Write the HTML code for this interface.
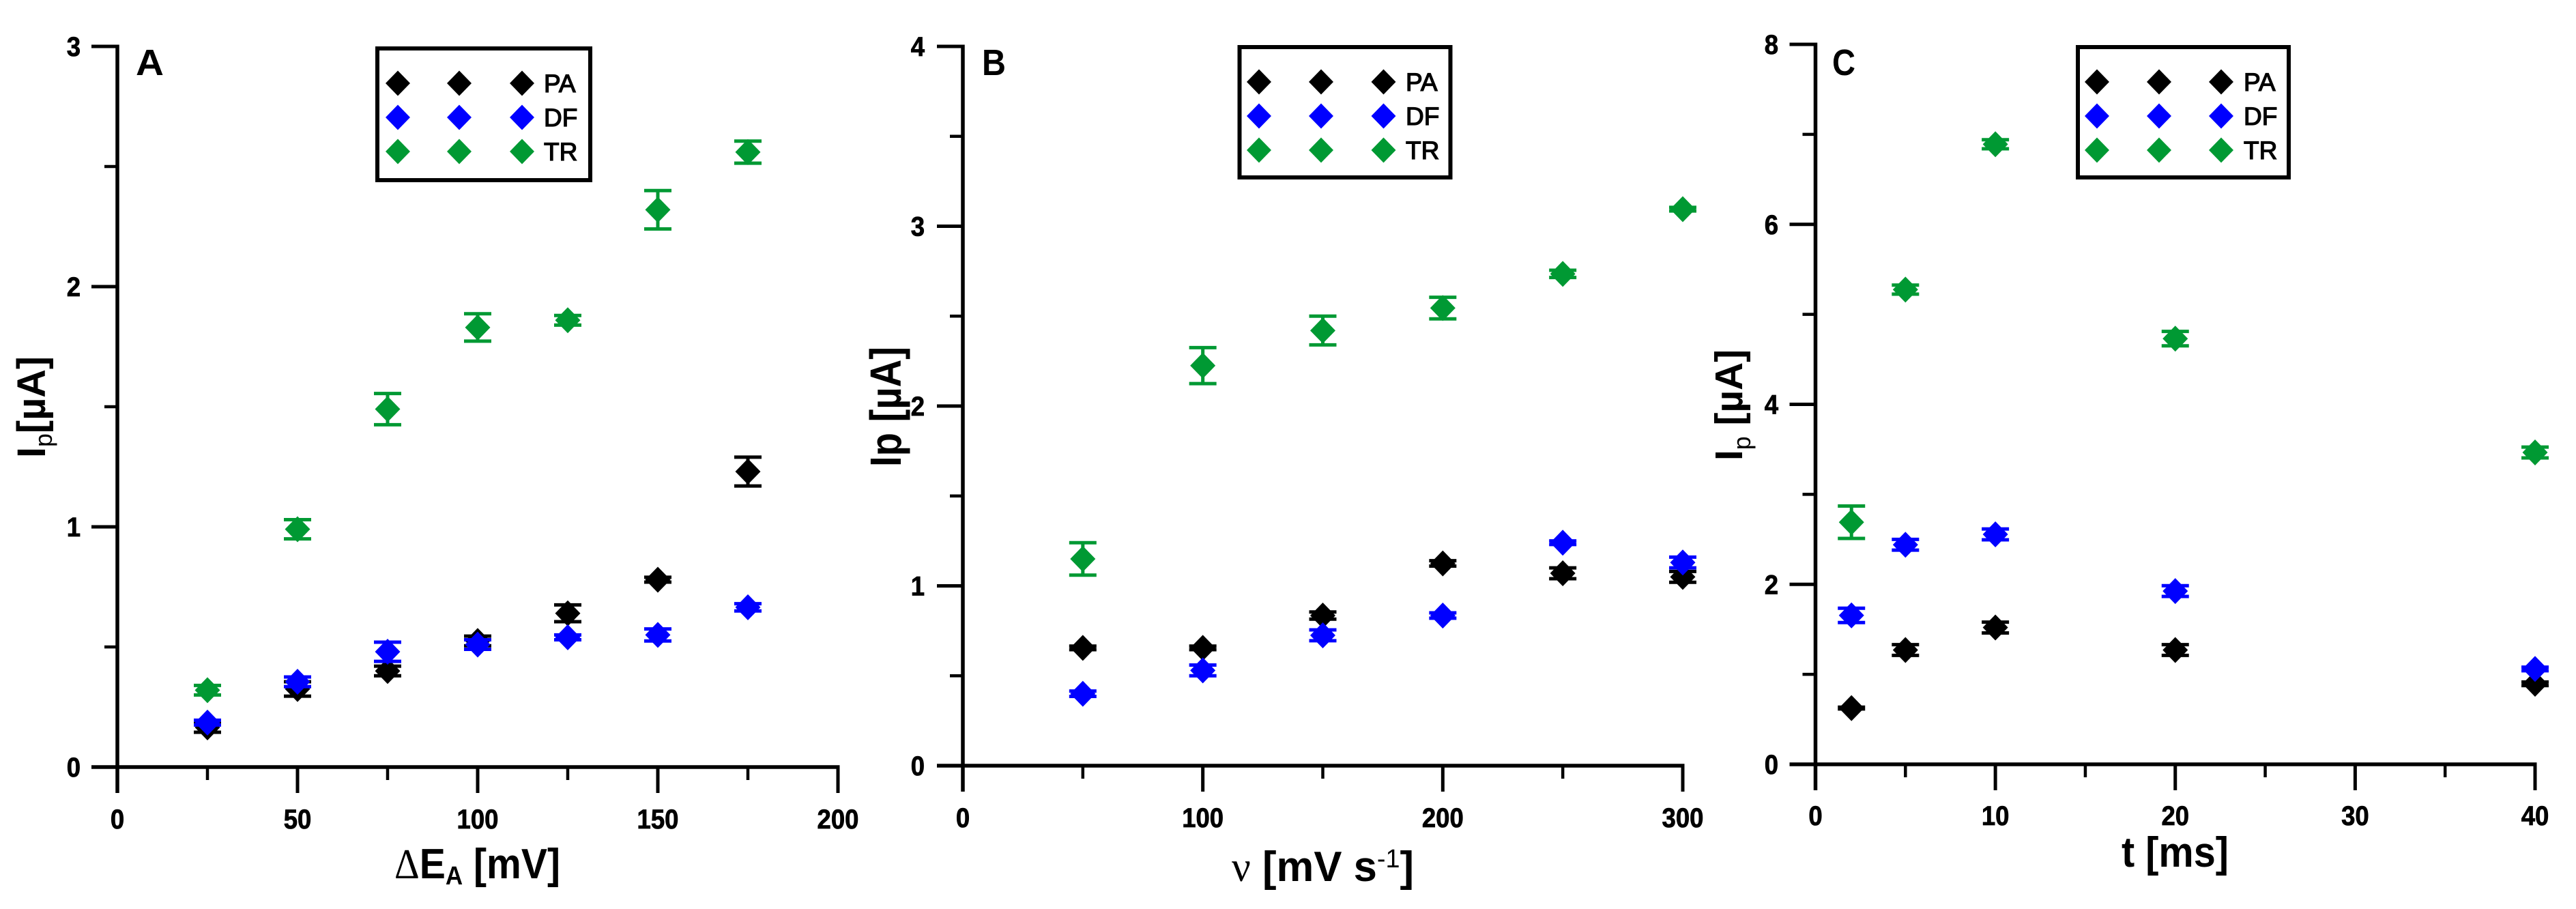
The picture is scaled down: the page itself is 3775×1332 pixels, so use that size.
<!DOCTYPE html>
<html lang="en">
<head>
<meta charset="utf-8">
<title>Peak current plots</title>
<style>
html,body{margin:0;padding:0;background:#fff;}
#figure{display:block;width:3775px;height:1332px;background:#fff;}
text{font-family:"Liberation Sans",Arial,sans-serif;fill:#000;}
</style>
</head>
<body>
<svg id="figure" xmlns="http://www.w3.org/2000/svg" width="3775" height="1332" viewBox="0 0 3775 1332"></svg>
<script>
// Panel A data
const aCategories = [25, 50, 75, 100, 125, 150, 175];
const aPA = [0.165, 0.325, 0.40, 0.525, 0.64, 0.78, 1.23];
const aPAErr = [0.02, 0.03, 0.02, 0.02, 0.035, 0.01, 0.06];
const aDF = [0.185, 0.355, 0.48, 0.51, 0.54, 0.55, 0.665];
const aDFErr = [0.01, 0.02, 0.04, 0.02, 0.01, 0.025, 0.015];
const aTR = [0.32, 0.99, 1.49, 1.83, 1.86, 2.32, 2.56];
const aTRErr = [0.02, 0.04, 0.065, 0.057, 0.02, 0.08, 0.046];
const aXMajor = [0, 50, 100, 150, 200];
const aXMinor = [25, 75, 125, 175];
const aYMajor = [0, 1, 2, 3];
const aYMinor = [0.5, 1.5, 2.5];

// Panel B data
const bCategories = [50, 100, 150, 200, 250, 300];
const bPA = [0.655, 0.655, 0.835, 1.125, 1.07, 1.05];
const bPAErr = [0.01, 0.01, 0.02, 0.015, 0.03, 0.03];
const bDF = [0.40, 0.53, 0.725, 0.835, 1.24, 1.13];
const bDFErr = [0.015, 0.03, 0.03, 0.015, 0.01, 0.03];
const bTR = [1.15, 2.225, 2.42, 2.545, 2.735, 3.095];
const bTRErr = [0.09, 0.10, 0.08, 0.06, 0.02, 0.01];
const bXMajor = [0, 100, 200, 300];
const bXMinor = [50, 150, 250];
const bYMajor = [0, 1, 2, 3, 4];
const bYMinor = [0.5, 1.5, 2.5, 3.5];

// Panel C data
const cCategories = [2, 5, 10, 20, 40];
const cPA = [0.625, 1.27, 1.52, 1.27, 0.895];
const cPAErr = [0.01, 0.06, 0.06, 0.06, 0.02];
const cDF = [1.655, 2.44, 2.555, 1.925, 1.06];
const cDFErr = [0.08, 0.06, 0.06, 0.06, 0.02];
const cTR = [2.69, 5.275, 6.89, 4.73, 3.465];
const cTRErr = [0.18, 0.05, 0.05, 0.08, 0.06];
const cXMajor = [0, 10, 20, 30, 40];
const cXMinor = [5, 15, 25, 35];
const cYMajor = [0, 2, 4, 6, 8];
const cYMinor = [1, 3, 5, 7];

const seriesNames = ['PA', 'DF', 'TR'];
const seriesColors = ['#000000', '#0000ff', '#009933'];

const NS = 'http://www.w3.org/2000/svg';
const root = document.getElementById('figure');

function make(tag, attrs, parent) {
  const node = document.createElementNS(NS, tag);
  for (const k in attrs) node.setAttribute(k, attrs[k]);
  parent.appendChild(node);
  return node;
}

function drawPanel(p) {
  const g = make('g', {}, root);
  
  

  const sx = v => p.left + (v / p.xMax) * (p.right - p.left);
  const sy = v => p.bottom - (v / p.yMax) * (p.bottom - p.top);

  // Axis lines
  const xAxis = make('line', {x1: p.left - 38, y1: p.bottom, x2: p.right + 2.5, y2: p.bottom, stroke: '#000', 'stroke-width': 5.5}, g);
  
  
  const yAxis = make('line', {x1: p.left, y1: p.top - 2.5, x2: p.left, y2: p.bottom + 38, stroke: '#000', 'stroke-width': 5.5}, g);
  
  

  // X ticks
  p.xMajor.forEach(v => {
    if (v !== 0) {
      const t = make('line', {x1: sx(v), y1: p.bottom, x2: sx(v), y2: p.bottom + 38, stroke: '#000', 'stroke-width': 5}, g);
      
      
    }
    const s = String(v);
    const lab = make('text', {x: sx(v), y: p.xLabelBase, 'text-anchor': 'middle', 'font-size': 40, 'font-weight': 'bold', stroke: '#000', 'stroke-width': 0.8, textLength: s.length * 20.3, lengthAdjust: 'spacingAndGlyphs'}, g);
    lab.textContent = s;
    
    
  });
  p.xMinor.forEach(v => {
    const t = make('line', {x1: sx(v), y1: p.bottom, x2: sx(v), y2: p.bottom + 19, stroke: '#000', 'stroke-width': 4.5}, g);
    
    
  });

  // Y ticks
  p.yMajor.forEach(v => {
    const t = make('line', {x1: p.left - 38, y1: sy(v), x2: p.left, y2: sy(v), stroke: '#000', 'stroke-width': 5}, g);
    
    
    const s = String(v);
    const lab = make('text', {x: p.yLabelRight, y: sy(v) + 14, 'text-anchor': 'end', 'font-size': 40, 'font-weight': 'bold', stroke: '#000', 'stroke-width': 0.8, textLength: s.length * 20.3, lengthAdjust: 'spacingAndGlyphs'}, g);
    lab.textContent = s;
    
    
  });
  p.yMinor.forEach(v => {
    const t = make('line', {x1: p.left - 19, y1: sy(v), x2: p.left, y2: sy(v), stroke: '#000', 'stroke-width': 4.5}, g);
    
    
  });

  // Series, back to front: PA, DF, TR
  p.series.forEach((values, si) => {
    const sg = make('g', {}, g);
    
    
    const color = seriesColors[si];
    const errs = p.errors[si];
    values.forEach((v, i) => {
      const cx = sx(p.categories[i]);
      const hi = sy(v + errs[i]);
      const lo = sy(v - errs[i]);
      const err = make('path', {d: 'M' + (cx - 20) + ' ' + hi + 'H' + (cx + 20) + 'M' + cx + ' ' + hi + 'V' + lo + 'M' + (cx - 20) + ' ' + lo + 'H' + (cx + 20), fill: 'none', stroke: color, 'stroke-width': 5}, sg);
      
      
      const cy = sy(v);
      const pt = make('path', {d: 'M' + cx + ' ' + (cy - 19) + 'L' + (cx + 18.5) + ' ' + cy + 'L' + cx + ' ' + (cy + 19) + 'L' + (cx - 18.5) + ' ' + cy + 'Z', fill: color}, sg);
      
      
    });
  });

  // Panel letter
  const letter = make('text', {x: p.letterX, y: 110, 'font-size': 54, 'font-weight': 'bold', textLength: p.letterW, lengthAdjust: 'spacingAndGlyphs'}, g);
  letter.textContent = p.letter;
  
  

  // Legend
  const lg = make('g', {}, g);
  
  
  const box = make('rect', {x: p.legend.x, y: p.legend.y, width: p.legend.w, height: p.legend.h, fill: '#fff', stroke: '#000', 'stroke-width': 6}, lg);
  
  
  seriesNames.forEach((name, si) => {
    const cy = p.legend.rowY + si * 50;
    p.legend.markers.forEach(mx => {
      const m = make('path', {d: 'M' + mx + ' ' + (cy - 18.5) + 'L' + (mx + 18) + ' ' + cy + 'L' + mx + ' ' + (cy + 18.5) + 'L' + (mx - 18) + ' ' + cy + 'Z', fill: seriesColors[si]}, lg);
      
      
    });
    const t = make('text', {x: p.legend.textX, y: cy + 13, 'font-size': 37, stroke: '#000', 'stroke-width': 1.3}, lg);
    t.textContent = name;
    
    
  });

  // Titles
  p.drawTitles(g);
}

function titleText(parent, attrs, parts, name) {
  const t = make('text', attrs, parent);
  
  
  parts.forEach(part => {
    const s = make('tspan', part.attrs || {}, t);
    s.textContent = part.text;
  });
  return t;
}

const serif = '"Liberation Serif","Times New Roman",serif';

drawPanel({
  letter: 'A', letterX: 199, letterW: 41,
  left: 172, right: 1228, top: 68, bottom: 1124, xMax: 200, yMax: 3,
  xLabelBase: 1214, yLabelRight: 118,
  categories: aCategories, series: [aPA, aDF, aTR], errors: [aPAErr, aDFErr, aTRErr],
  xMajor: aXMajor, xMinor: aXMinor, yMajor: aYMajor, yMinor: aYMinor,
  legend: {x: 553, y: 71, w: 312, h: 193, rowY: 122, markers: [583, 673, 765], textX: 797},
  drawTitles(g) {
    titleText(g, {x: 578, y: 1287, 'font-size': 62, 'font-weight': 'bold', textLength: 243, lengthAdjust: 'spacingAndGlyphs'}, [
      {text: '\u0394', attrs: {'font-weight': 'normal', style: 'font-family:' + serif}},
      {text: 'E'},
      {text: 'A', attrs: {dy: 9, 'font-size': 38}},
      {text: ' [mV]', attrs: {dy: -9}}
    ], 'x-axis-title');
    titleText(g, {x: 66, y: 671, transform: 'rotate(-90 66 671)', 'font-size': 58, 'font-weight': 'bold', textLength: 149, lengthAdjust: 'spacingAndGlyphs'}, [
      {text: 'I'},
      {text: 'p', attrs: {dy: 10, 'font-size': 36, 'font-weight': 'normal'}},
      {text: '[\u00b5A]', attrs: {dy: -10}}
    ], 'y-axis-title');
  }
});

drawPanel({
  letter: 'B', letterX: 1439, letterW: 35,
  left: 1411, right: 2466, top: 68, bottom: 1122, xMax: 300, yMax: 4,
  xLabelBase: 1212, yLabelRight: 1355,
  categories: bCategories, series: [bPA, bDF, bTR], errors: [bPAErr, bDFErr, bTRErr],
  xMajor: bXMajor, xMinor: bXMinor, yMajor: bYMajor, yMinor: bYMinor,
  legend: {x: 1816.5, y: 69, w: 309, h: 191, rowY: 120, markers: [1845, 1936, 2027.5], textX: 2060},
  drawTitles(g) {
    titleText(g, {x: 1805, y: 1291, 'font-size': 62, 'font-weight': 'bold', textLength: 267, lengthAdjust: 'spacingAndGlyphs'}, [
      {text: '\u03bd', attrs: {'font-weight': 'normal', style: 'font-family:' + serif}},
      {text: ' [mV s'},
      {text: '-1', attrs: {dy: -20, 'font-size': 38, 'font-weight': 'normal'}},
      {text: ']', attrs: {dy: 20}}
    ], 'x-axis-title');
    titleText(g, {x: 1320, y: 684, transform: 'rotate(-90 1320 684)', 'font-size': 64, 'font-weight': 'bold', textLength: 176, lengthAdjust: 'spacingAndGlyphs'}, [
      {text: 'Ip [\u00b5A]'}
    ], 'y-axis-title');
  }
});

drawPanel({
  letter: 'C', letterX: 2685, letterW: 34,
  left: 2660.5, right: 3715, top: 65, bottom: 1120, xMax: 40, yMax: 8,
  xLabelBase: 1209, yLabelRight: 2606,
  categories: cCategories, series: [cPA, cDF, cTR], errors: [cPAErr, cDFErr, cTRErr],
  xMajor: cXMajor, xMinor: cXMinor, yMajor: cYMajor, yMinor: cYMinor,
  legend: {x: 3045, y: 69, w: 309, h: 191, rowY: 120, markers: [3073, 3164, 3255], textX: 3288},
  drawTitles(g) {
    titleText(g, {x: 3109, y: 1270, 'font-size': 62, 'font-weight': 'bold', textLength: 157, lengthAdjust: 'spacingAndGlyphs'}, [
      {text: 't [ms]'}
    ], 'x-axis-title');
    titleText(g, {x: 2553, y: 675, transform: 'rotate(-90 2553 675)', 'font-size': 57, 'font-weight': 'bold', textLength: 163, lengthAdjust: 'spacingAndGlyphs'}, [
      {text: 'I'},
      {text: 'p', attrs: {dy: 12, 'font-size': 36, 'font-weight': 'normal'}},
      {text: ' [\u00b5A]', attrs: {dy: -12}}
    ], 'y-axis-title');
  }
});
</script>
</body>
</html>
